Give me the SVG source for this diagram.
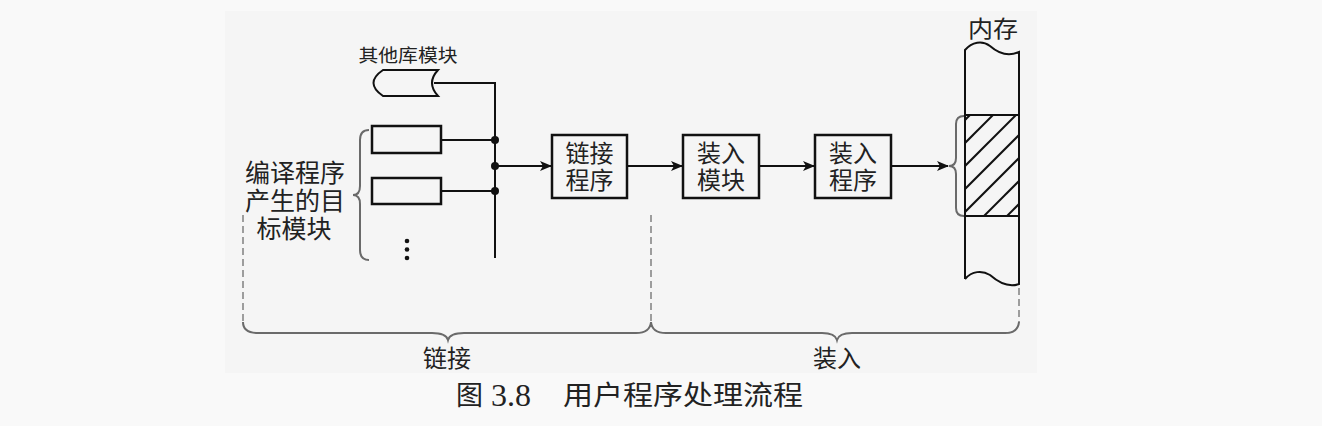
<svg xmlns="http://www.w3.org/2000/svg" width="1322" height="426" viewBox="0 0 1322 426">
<style>
.ln{fill:none;stroke:#111;stroke-width:2}
.box{fill:none;stroke:#111;stroke-width:2.5}
.br{fill:none;stroke:#6a6a6a;stroke-width:2}
.ds{fill:none;stroke:#888;stroke-width:1.6;stroke-dasharray:7,4}
.t{font-family:"Liberation Serif","Noto Sans CJK SC",serif;fill:#222}
.c{text-anchor:middle}
</style>
<defs>
<marker id="ah" markerWidth="12" markerHeight="10" refX="11" refY="5" orient="auto" markerUnits="userSpaceOnUse">
<path d="M0,0 L12,5 L0,10 L3,5 Z" fill="#111"/>
</marker>
<clipPath id="hc"><rect x="965" y="115" width="54" height="101"/></clipPath>
</defs>
<rect width="1322" height="426" fill="#f9f9f9"/>
<rect x="225" y="11" width="812" height="362" fill="#f5f5f5"/>

<g id="library">
<path class="ln" d="M383,70 L438,70 Q426,83 438,96 L383,96 Q364,83 383,70 Z"/>
<text class="t c" x="408" y="62" font-size="18" textLength="99" lengthAdjust="spacingAndGlyphs">其他库模块</text>
</g>
<g id="obj1"><rect class="box" x="372" y="126" width="69" height="27"/></g>
<g id="obj2"><rect class="box" x="372" y="178" width="69" height="26"/></g>
<g id="objdots">
<circle cx="407" cy="241" r="2.3" fill="#111"/>
<circle cx="407" cy="249.5" r="2.3" fill="#111"/>
<circle cx="407" cy="258" r="2.3" fill="#111"/>
</g>
<g id="objlabel">
<path class="br" d="M369,130 Q360,130 360,140 L360,186 Q360,195 353,195 Q360,195 360,204 L360,250 Q360,260 369,260"/>
<text class="t c" font-size="25" x="295" y="182">编译程序</text>
<text class="t c" font-size="25" x="295" y="210">产生的目</text>
<text class="t c" font-size="25" x="294" y="238">标模块</text>
</g>
<g id="linker">
<rect class="box" x="552" y="135" width="75" height="63"/>
<text class="t c" font-size="24" x="589.5" y="162">链接</text>
<text class="t c" font-size="24" x="589.5" y="189">程序</text>
</g>
<g id="loadmod">
<rect class="box" x="683" y="135" width="76" height="63"/>
<text class="t c" font-size="24" x="721" y="162">装入</text>
<text class="t c" font-size="24" x="721" y="189">模块</text>
</g>
<g id="loader">
<rect class="box" x="815" y="135" width="76" height="63"/>
<text class="t c" font-size="24" x="853" y="162">装入</text>
<text class="t c" font-size="24" x="853" y="189">程序</text>
</g>
<g id="memory">
<text class="t c" x="993" y="37" font-size="23" textLength="50" lengthAdjust="spacingAndGlyphs">内存</text>
<path class="ln" d="M965,279 L965,50 C972,42 982,40 990,46 C998,53 1008,57 1019,52 L1019,284 C1008,288 998,282 990,275 C982,270 972,271 965,279"/>
<g clip-path="url(#hc)" class="ln">
<line x1="940" y1="145" x2="1040" y2="45"/>
<line x1="940" y1="168" x2="1040" y2="68"/>
<line x1="940" y1="191" x2="1040" y2="91"/>
<line x1="940" y1="214" x2="1040" y2="114"/>
<line x1="940" y1="237" x2="1040" y2="137"/>
<line x1="940" y1="260" x2="1040" y2="160"/>
<line x1="940" y1="283" x2="1040" y2="183"/>
</g>
<line class="ln" x1="965" y1="115" x2="1019" y2="115"/>
<line class="ln" x1="965" y1="216" x2="1019" y2="216"/>
<path class="br" d="M964,116 Q956,116 956,124 L956,158 Q956,166 949,166 Q956,166 956,174 L956,208 Q956,216 964,216"/>
</g>
<g id="connectors">
<path class="ln" d="M434,83 L495,83 L495,258"/>
<line class="ln" x1="441" y1="140" x2="495" y2="140"/>
<line class="ln" x1="441" y1="191" x2="495" y2="191"/>
<circle cx="495" cy="140" r="4" fill="#111"/>
<circle cx="495" cy="166" r="4" fill="#111"/>
<circle cx="495" cy="191" r="4" fill="#111"/>
<line class="ln" x1="495" y1="166" x2="551" y2="166" marker-end="url(#ah)"/>
<line class="ln" x1="627" y1="166" x2="682" y2="166" marker-end="url(#ah)"/>
<line class="ln" x1="759" y1="166" x2="814" y2="166" marker-end="url(#ah)"/>
<line class="ln" x1="891" y1="166" x2="948" y2="166" marker-end="url(#ah)"/>
</g>
<g id="phases">
<line class="ds" x1="243" y1="215" x2="243" y2="322"/>
<line class="ds" x1="651" y1="215" x2="651" y2="322"/>
<line class="ds" x1="1019" y1="288" x2="1019" y2="322"/>
<path class="br" d="M243,322 Q243,333 258,333 L432,333 Q446,333 448,340 Q450,333 464,333 L636,333 Q650,333 651,322 Q652,333 666,333 L822,333 Q835,333 837,340 Q839,333 852,333 L1005,333 Q1018,333 1019,322"/>
<text class="t c" font-size="24" x="447" y="367">链接</text>
<text class="t c" font-size="24" x="837" y="367">装入</text>
</g>
<g id="caption">
<text class="t" x="456" y="405" font-size="27">图 <tspan x="491" font-size="32" y="406">3.8</tspan><tspan x="563" y="405" textLength="240" lengthAdjust="spacingAndGlyphs">用户程序处理流程</tspan></text>
</g>
</svg>
